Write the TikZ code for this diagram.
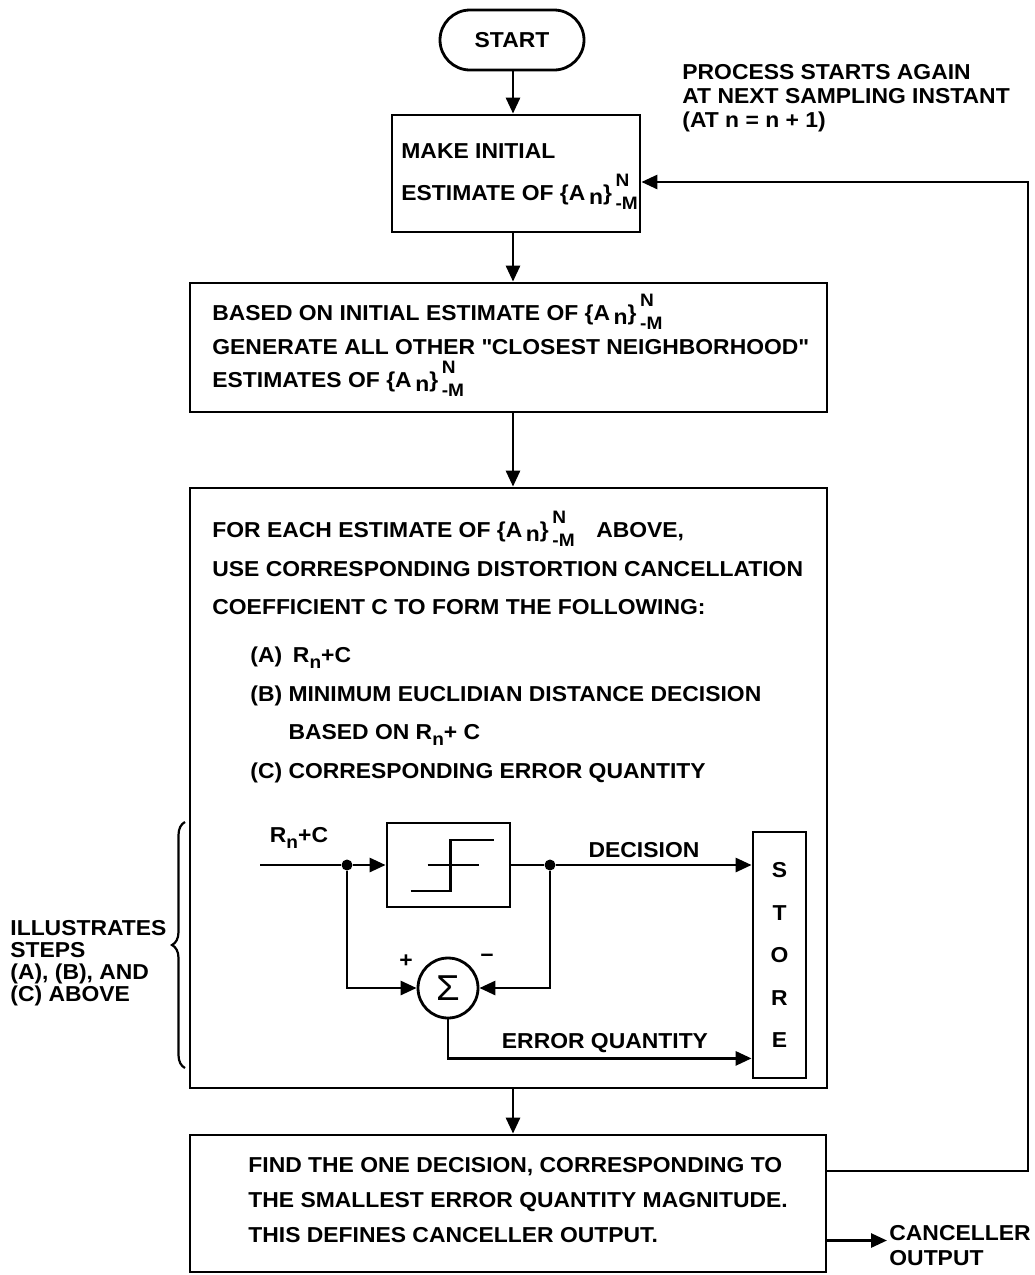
\documentclass[tikz,border=0pt]{standalone}
\usepackage{fontspec}
\setmainfont{Liberation Sans}[FakeStretch=1.06]
\usetikzlibrary{arrows.meta,positioning,calc,decorations.pathreplacing}

\newcommand{\Aset}{\{A\,\raisebox{-0.35ex}{n}\}\,\rlap{\raisebox{1.25ex}{\small N}}\raisebox{-0.8ex}{\small -M}}
\newcommand{\Rn}{R\raisebox{-0.5ex}{\small n}}

\begin{document}
\begin{tikzpicture}[x=0.5pt, y=-0.5pt,
  box/.style={draw, line width=1.4pt, inner sep=0pt},
  txt/.style={font=\bfseries\fontsize{10.8}{#1}\selectfont, align=left,
    anchor=base west, inner sep=0pt},
  txt/.default=13pt,
  lbl/.style={font=\bfseries\fontsize{10.8}{13}\selectfont, inner sep=0pt},
  wire/.style={line width=1.4pt},
  arr/.style={wire, -{Triangle[length=8pt,width=7pt]}},
  dot/.style={circle, fill, inner sep=0pt, minimum size=5.5pt}]

  \useasboundingbox (0,0) rectangle (1034,1275);
  \coordinate (col) at (513,0);

  % main chain of steps (text nodes sit on their last baseline)
  \node[box, lbl, rounded corners=15pt, minimum width=72pt,
    minimum height=30pt] (start) at (512,40) {START};

  \node[box, minimum width=124pt, minimum height=58.5pt] (init) at (516,173.5) {};
  \node[txt=21pt] (inittxt) at (401,200.5)
    {MAKE INITIAL\\ESTIMATE OF \Aset};

  \node[box, minimum width=318.5pt, minimum height=64.5pt] (gen) at (508.5,347.5) {};
  \node[txt=16.75pt] (gentxt) at (212,387.5)
    {BASED ON INITIAL ESTIMATE OF \Aset\\
     GENERATE ALL OTHER \textquotedbl CLOSEST NEIGHBORHOOD\textquotedbl\\
     ESTIMATES OF \Aset};

  \node[box, minimum width=318.5pt, minimum height=300pt] (each) at (508.5,788) {};
  \node[txt=19.25pt] (eachtxt) at (212,614.5)
    {FOR EACH ESTIMATE OF \Aset\quad ABOVE,\\
     USE CORRESPONDING DISTORTION CANCELLATION\\
     COEFFICIENT C TO FORM THE FOLLOWING:};
  \node[txt=19.25pt] (steptxt) at (250,778)
    {(A)\enspace\Rn+C\\
     (B) MINIMUM EUCLIDIAN DISTANCE DECISION\\
     \phantom{(B) }BASED ON \Rn+ C\\
     (C) CORRESPONDING ERROR QUANTITY};

  \node[box, minimum width=318pt, minimum height=68.5pt] (find) at (508,1203.5) {};
  \node[txt=17.5pt] (findtxt) at (248,1242.5)
    {FIND THE ONE DECISION, CORRESPONDING TO\\
     THE SMALLEST ERROR QUANTITY MAGNITUDE.\\
     THIS DEFINES CANCELLER OUTPUT.};

  \draw[arr] (start.south -| col) -- (init.north -| col);
  \draw[arr] (init.south -| col) -- (gen.north -| col);
  \draw[arr] (gen.south -| col) -- (each.north -| col);
  \draw[arr] (each.south -| col) -- (find.north -| col);

  % loop back for the next sample
  \coordinate (fbk) at (0,1171);
  \coordinate (ret) at (1028,182);
  \draw[arr] (find.east |- fbk) -| (ret) -- (init.east |- ret);
  \node[txt=12pt] (again) at (682,127.5)
    {PROCESS STARTS AGAIN\\AT NEXT SAMPLING INSTANT\\(AT n = n + 1)};

  \node[txt=12.5pt] (out) at (889,1265.5) {CANCELLER\\OUTPUT};
  \coordinate (outin) at ([xshift=-1pt,yshift=12.5pt]out.base west);
  \draw[arr] (find.east |- outin) -- (outin);

  % decision / error sketch inside the big box
  \node[lbl] (rinlbl) at (299,838) {\Rn+C};
  \coordinate (rin) at (260,865);
  \node[dot] (d1) at (347,865) {};
  \node[dot] (d2) at (550,865) {};
  \node[box, minimum width=61.5pt, minimum height=42pt] (quant) at (448.5,865) {};
  \draw[wire, shift={(quant.center)}]
    (-38,26) -- (2,26) -- (2,-25) -- (45,-25) (-21,0) -- (30,0);
  \node[box, minimum width=26.5pt, minimum height=123pt, align=center,
    font=\bfseries\fontsize{10.8}{21.25}\selectfont] (store) at (779.5,955)
    {S\\T\\O\\R\\E};
  \node[box, circle, minimum size=30pt, font=\fontsize{18}{18}\selectfont]
    (sum) at (448,988) {Σ};

  \draw[wire] (rin) -- (d1);
  \draw[arr] (d1) -- (quant.west);
  \draw[wire] (quant.east) -- (d2);
  \draw[arr] (d2) -- (d2 -| store.west);
  \draw[arr] (d1) |- (sum.west);
  \draw[arr] (d2) |- (sum.east);
  \draw[arr] (sum.south) |- ([yshift=10.5pt]store.south west);
  \node[lbl] (declbl) at (644,850) {DECISION};
  \node[lbl] (errlbl) at (605,1043) {ERROR QUANTITY};
  \node[lbl] (plus) at (406,961) {+};
  \node[lbl] (minus) at (487,958) {−};

  % brace and its note
  \coordinate (brbot) at (185,1068);
  \coordinate (brtop) at (185,822);
  \draw[line width=1.1pt, decorate, decoration={brace, amplitude=6.5pt}]
    (brbot) -- (brtop);
  \node[txt=11pt] (illus) at (10,1001.5)
    {ILLUSTRATES\\STEPS\\(A), (B), AND\\(C) ABOVE};
\end{tikzpicture}
\end{document}
